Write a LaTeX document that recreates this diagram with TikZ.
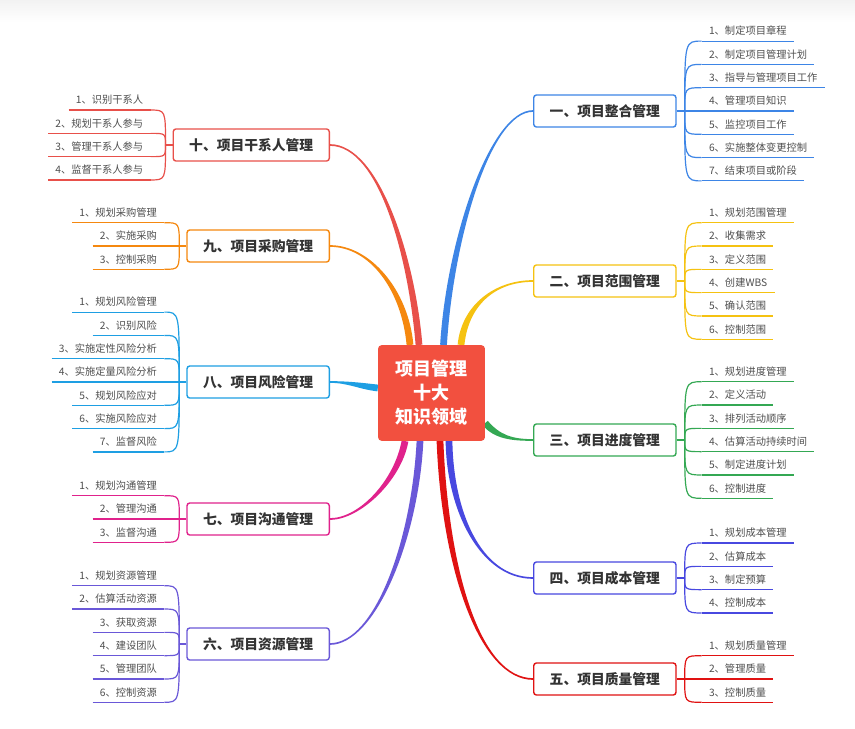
\documentclass[tikz,border=0pt]{standalone}
\usepackage{fontspec}
\setmainfont{Noto Sans CJK SC}
\usepackage{xcolor}
\usetikzlibrary{
    calc,
    positioning,
    backgrounds
}
\definecolor{cOne}{HTML}{3D85E6}
\definecolor{cTwo}{HTML}{F5C211}
\definecolor{cThree}{HTML}{34A853}
\definecolor{cFour}{HTML}{4848E0}
\definecolor{cFive}{HTML}{E01212}
\definecolor{cSix}{HTML}{6A58D8}
\definecolor{cSeven}{HTML}{E0228C}
\definecolor{cEight}{HTML}{1E9FE3}
\definecolor{cNine}{HTML}{F5880F}
\definecolor{cTen}{HTML}{E8504A}
\definecolor{cHub}{HTML}{F2503F}
\definecolor{topictxt}{HTML}{333333}
\definecolor{leaftxt}{HTML}{4F4F4F}
\tikzset{%
    % Specifications for style of nodes:
    hub/.style = {
        rectangle, rounded corners=2.5pt, fill=cHub,
        minimum width=76pt, minimum height=68pt,
        text=white, align=center,
        font=\bfseries\fontsize{12.8}{17}\selectfont
    },
    topic/.style = {
        rectangle, rounded corners=2pt, draw=#1, line width=1pt,
        fill=white, text=topictxt, inner xsep=11.4pt,
        minimum height=22.8pt,
        font=\bfseries\fontsize{9.8}{12}\selectfont
    },
    leaf/.style = {
        inner xsep=5pt, inner ysep=3pt, text=leaftxt,
        text height=6.3pt, text depth=1.2pt,
        font=\fontsize{7.3}{8}\selectfont
    },
    twig/.style = {draw=#1, line width=0.85pt}
}
% thick tapered branch from the hub to a topic
\newcommand{\mainbranch}[5]{%
    \path ($(#2)!2.4pt!90:(#3)$) coordinate (ta)
          ($(#2)!2.4pt!-90:(#3)$) coordinate (tb)
          ($(#5)!0.6pt!-90:(#4)$) coordinate (ua)
          ($(#5)!0.6pt!90:(#4)$) coordinate (ub);
    \fill[#1] (ta) .. controls ($(#3)+(ta)-(#2)$) and ($(#4)+(ua)-(#5)$) .. (ua)
        -- (ub) .. controls ($(#4)+(ub)-(#5)$) and ($(#3)+(tb)-(#2)$) .. (tb) -- cycle;
}
% leaves on the right of a topic
\newcommand{\rightleaves}[4]{%
    \coordinate (#1-j) at ($(#1.east)+(8,0)$);
    \draw[twig=#2] (#1.east) -- (#1-j);
    \foreach \txt [count=\i] in {#4} {
        \node[leaf, anchor=south west] (#1-\i)
            at ($(#1.east)+(25,{(\i-(#3+1)/2)*23.3})$) {\txt};
        \draw[twig=#2] (#1-\i.south west) -- (#1-\i.south east);
        \draw[twig=#2] (#1-j) .. controls (#1-j |- #1-\i.south west) .. (#1-\i.south west);
    }
}
% leaves on the left of a topic
\newcommand{\leftleaves}[4]{%
    \coordinate (#1-j) at ($(#1.west)+(-7,0)$);
    \draw[twig=#2] (#1.west) -- (#1-j);
    \foreach \txt [count=\i] in {#4} {
        \node[leaf, anchor=south east] (#1-\i)
            at ($(#1.west)+(-22,{(\i-(#3+1)/2)*23.3})$) {\txt};
        \draw[twig=#2] (#1-\i.south west) -- (#1-\i.south east);
        \draw[twig=#2] (#1-j) .. controls (#1-j |- #1-\i.south east) .. (#1-\i.south east);
    }
}

\begin{document}
\begin{tikzpicture}[x=0.025cm, y=-0.025cm]
    \useasboundingbox (0,0) rectangle (855,729);

    \node[hub] (ctr) at (431.5,393) {项目管理\\十大\\知识领域};

    % right side topics
    \node[topic=cOne, anchor=west] (b1) at (533,111) {一、项目整合管理};
    \node[topic=cTwo, anchor=west] (b2) at (533,281) {二、项目范围管理};
    \node[topic=cThree, anchor=west] (b3) at (533,440) {三、项目进度管理};
    \node[topic=cFour, anchor=west] (b4) at (533,578) {四、项目成本管理};
    \node[topic=cFive, anchor=west] (b5) at (533,679) {五、项目质量管理};
    % left side topics
    \node[topic=cSix, anchor=east] (b6) at (330,644) {六、项目资源管理};
    \node[topic=cSeven, anchor=east] (b7) at (330,519) {七、项目沟通管理};
    \node[topic=cEight, anchor=east] (b8) at (330,382) {八、项目风险管理};
    \node[topic=cNine, anchor=east] (b9) at (330,246) {九、项目采购管理};
    \node[topic=cTen, anchor=east] (b10) at (330,145) {十、项目干系人管理};

    \rightleaves{b1}{cOne}{7}{1、制定项目章程,2、制定项目管理计划,3、指导与管理项目工作,4、管理项目知识,5、监控项目工作,6、实施整体变更控制,7、结束项目或阶段}
    \rightleaves{b2}{cTwo}{6}{1、规划范围管理,2、收集需求,3、定义范围,4、创建WBS,5、确认范围,6、控制范围}
    \rightleaves{b3}{cThree}{6}{1、规划进度管理,2、定义活动,3、排列活动顺序,4、估算活动持续时间,5、制定进度计划,6、控制进度}
    \rightleaves{b4}{cFour}{4}{1、规划成本管理,2、估算成本,3、制定预算,4、控制成本}
    \rightleaves{b5}{cFive}{3}{1、规划质量管理,2、管理质量,3、控制质量}
    \leftleaves{b6}{cSix}{6}{1、规划资源管理,2、估算活动资源,3、获取资源,4、建设团队,5、管理团队,6、控制资源}
    \leftleaves{b7}{cSeven}{3}{1、规划沟通管理,2、管理沟通,3、监督沟通}
    \leftleaves{b8}{cEight}{7}{1、规划风险管理,2、识别风险,3、实施定性风险分析,4、实施定量风险分析,5、规划风险应对,6、实施风险应对,7、监督风险}
    \leftleaves{b9}{cNine}{3}{1、规划采购管理,2、实施采购,3、控制采购}
    \leftleaves{b10}{cTen}{4}{1、识别干系人,2、规划干系人参与,3、管理干系人参与,4、监督干系人参与}

    % start points on the hub
    \coordinate (r1) at ($(ctr.north)+(12,0)$);
    \coordinate (r2) at ($(ctr.north)+(29.5,0)$);
    \coordinate (r3) at ($(ctr.east)+(0,30)$);
    \coordinate (r4) at ($(ctr.south)+(17.5,0)$);
    \coordinate (r5) at ($(ctr.south)+(8.5,0)$);
    \coordinate (r6) at ($(ctr.south)+(-11.5,0)$);
    \coordinate (r7) at ($(ctr.south)+(-26.5,0)$);
    \coordinate (r8) at ($(ctr.west)+(0,-5)$);
    \coordinate (r9) at ($(ctr.north)+(-21.5,0)$);
    \coordinate (r10) at ($(ctr.north)+(-12.5,0)$);

    \begin{scope}[on background layer]
        \fill[white] (0,0) rectangle (855,729);
        \shade[top color=black!5, bottom color=white] (0,0) rectangle (855,22);
        \mainbranch{cOne}{r1}{450,240}{490,111}{b1.west}
        \mainbranch{cTwo}{r2}{465,305}{495,281}{b2.west}
        \mainbranch{cThree}{r3}{497,437}{512,440}{b3.west}
        \mainbranch{cFour}{r4}{450,510}{480,578}{b4.west}
        \mainbranch{cFive}{r5}{445,570}{480,679}{b5.west}
        \mainbranch{cSix}{r6}{415,540}{375,644}{b6.east}
        \mainbranch{cSeven}{r7}{398,480}{360,519}{b7.east}
        \mainbranch{cEight}{r8}{360,386}{348,382}{b8.east}
        \mainbranch{cNine}{r9}{405,290}{370,246}{b9.east}
        \mainbranch{cTen}{r10}{412,260}{380,145}{b10.east}
    \end{scope}
\end{tikzpicture}
\end{document}
